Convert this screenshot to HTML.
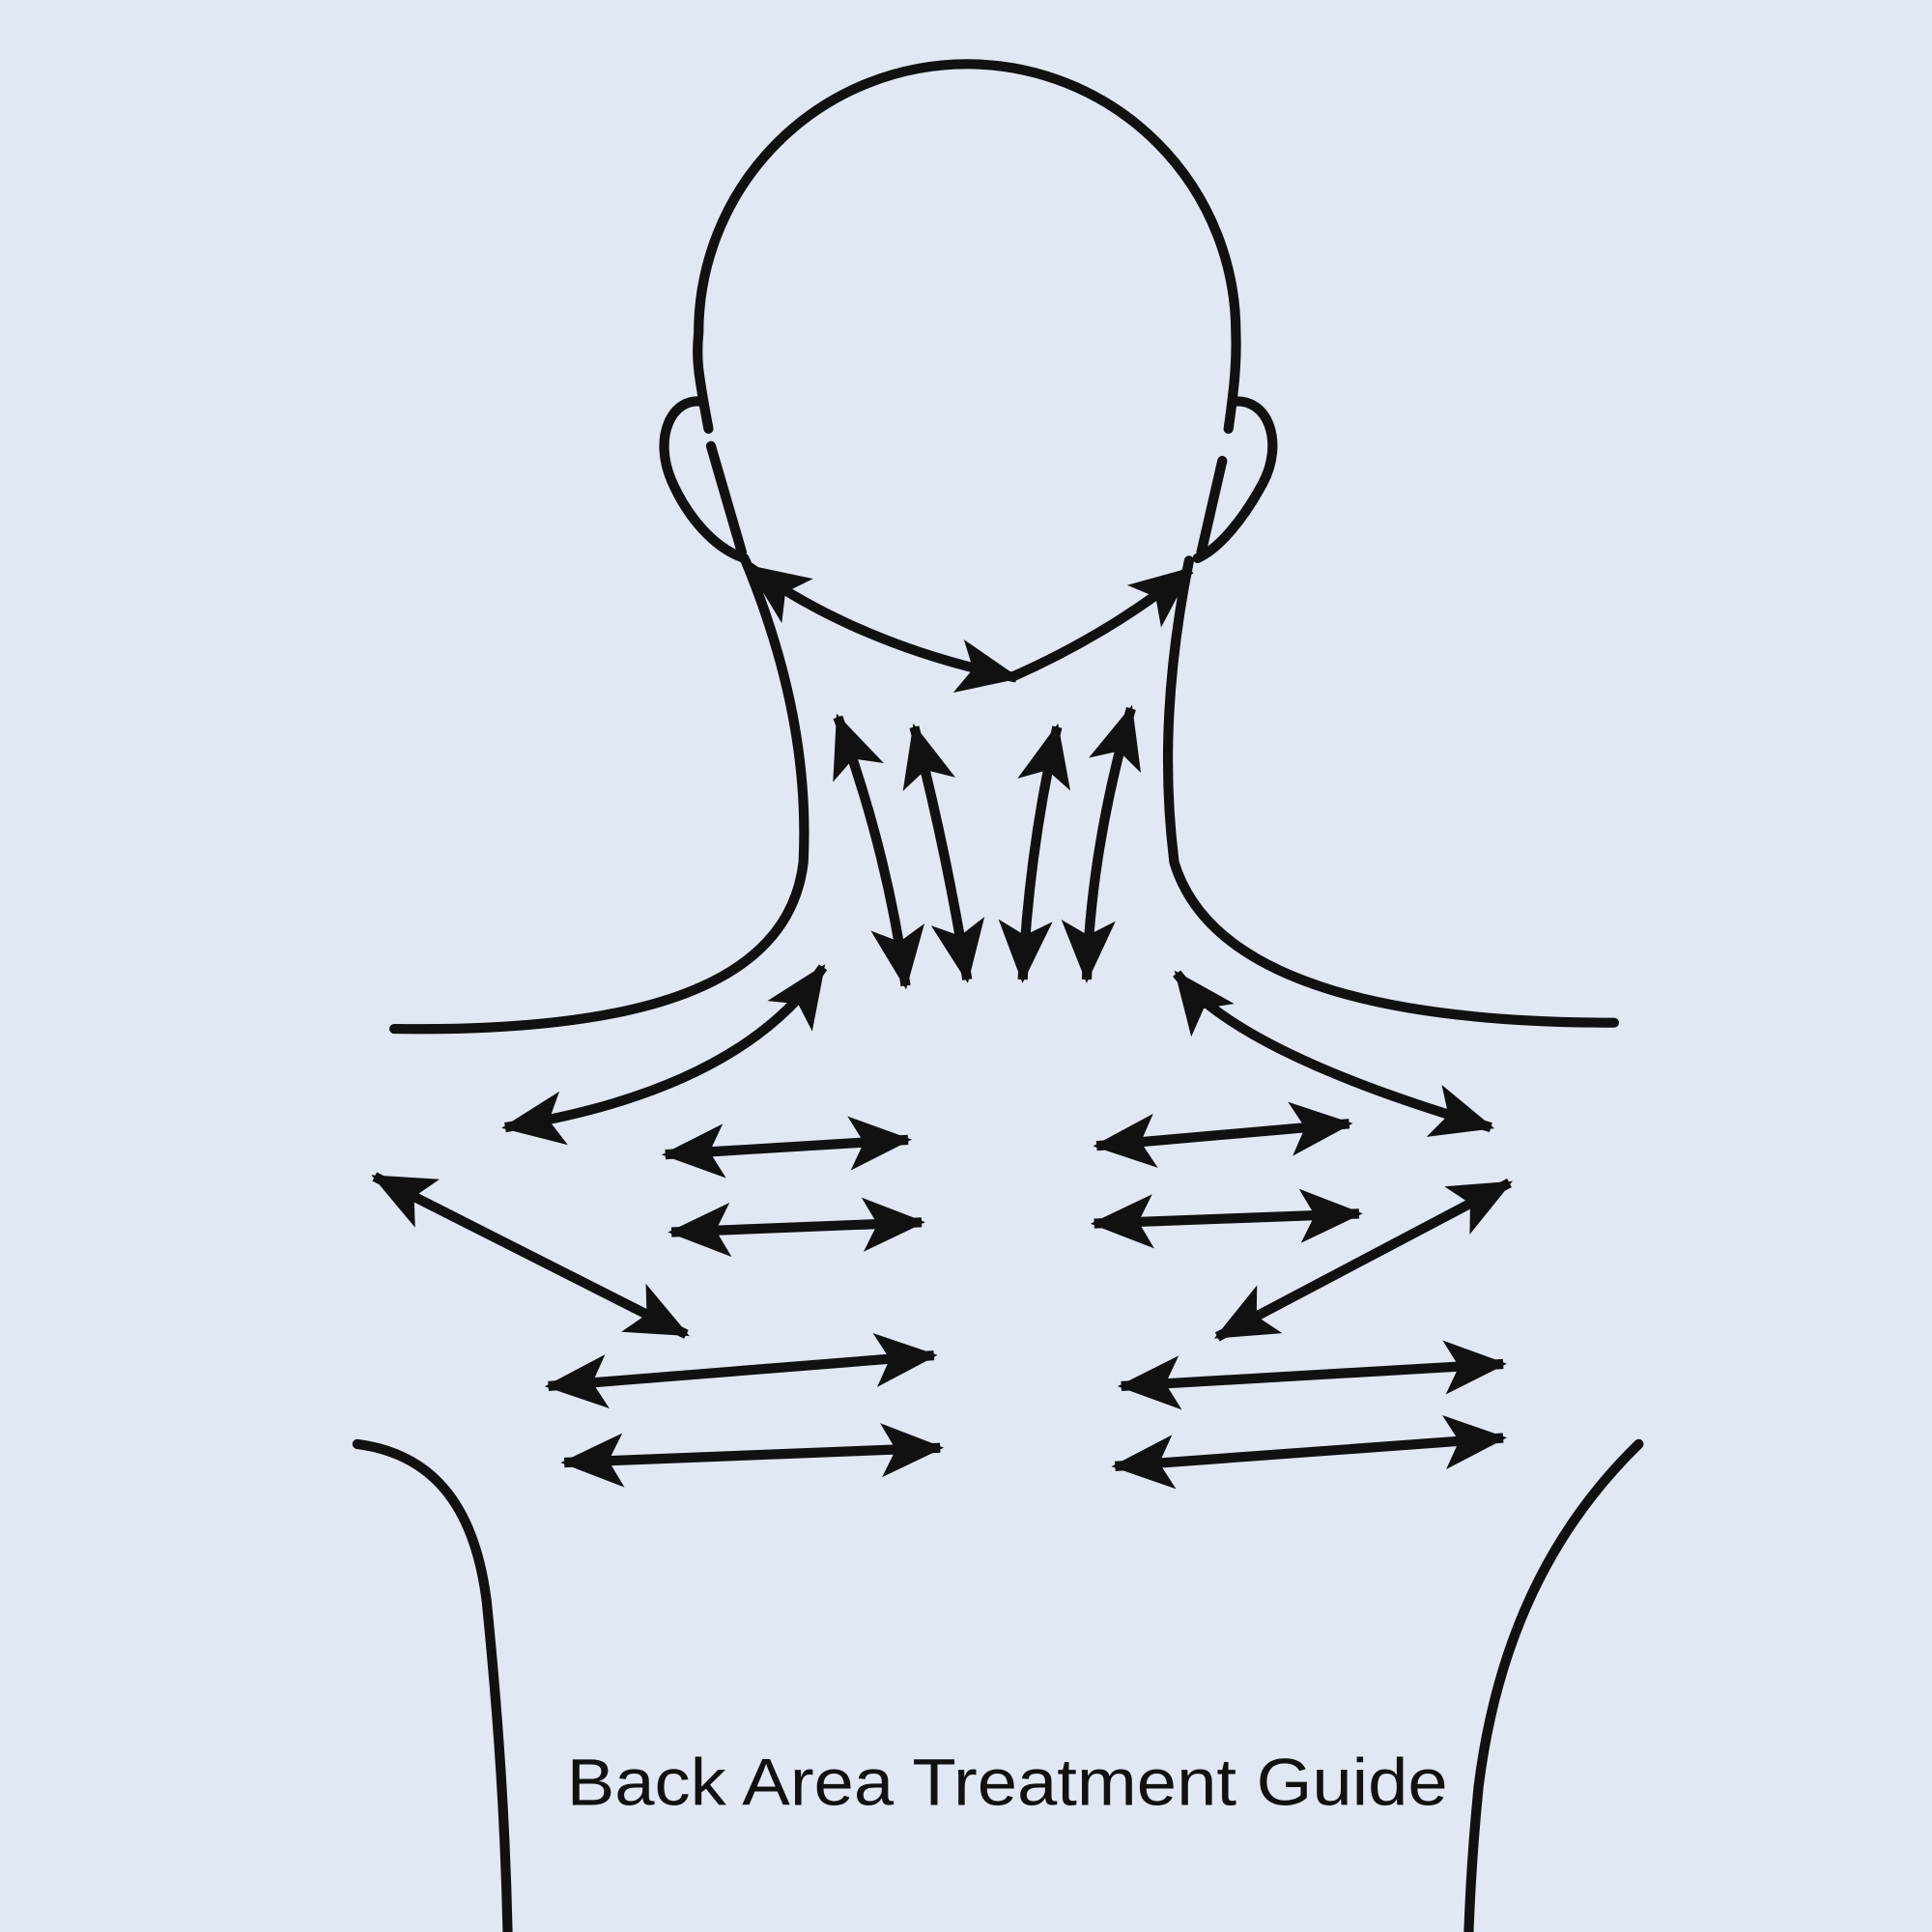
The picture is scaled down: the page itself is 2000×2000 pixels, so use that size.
<!DOCTYPE html>
<html><head><meta charset="utf-8"><style>
html,body{margin:0;padding:0;background:#e1e8f3;}
svg{display:block;}
</style></head><body>
<svg width="2000" height="2000" viewBox="0 0 1568 1568" xmlns="http://www.w3.org/2000/svg">
<defs>
<marker id="ah" markerUnits="userSpaceOnUse" viewBox="-55 -28 60 56" markerWidth="60" markerHeight="56" refX="0" refY="0" orient="auto-start-reverse">
<path d="M3,0 L-48,-22 L-36,0 L-48,22 Z" fill="#111"/>
</marker>
</defs>
<rect width="1568" height="1568" fill="#e1e8f3"/>
<g fill="none" stroke="#111" stroke-width="8" stroke-linecap="round">
<path d="M575,348 C566,300 565,290 567,270 A218 218 0 0 1 1003,270 C1004,295 1001,320 997,348"/>
<path d="M577,362 L602,448"/>
<path d="M992,374 L975,448"/>
<path d="M570,326 C545,322 530,355 545,390 C558,420 580,445 604,453"/>
<path d="M1000,326 C1030,322 1042,360 1025,392 C1010,420 990,445 972,453"/>
<path d="M605,455 C640,540 656,620 652,700 C640,800 520,838 320,835"/>
<path d="M965,455 C948,540 943,620 953,700 C985,805 1150,830 1310,830"/>
<path d="M290,1172 C350,1180 385,1220 395,1300 C405,1400 410,1480 412,1568"/>
<path d="M1330,1172 C1260,1240 1215,1330 1200,1450 C1195,1500 1193,1540 1192,1568"/>
</g>
<g fill="none" stroke="#111" stroke-width="8" stroke-linecap="butt" marker-start="url(#ah)" marker-end="url(#ah)">
<path d="M608,460 Q700,525 825,550"/>
<path d="M680,582 Q720,690 735,800"/>
<path d="M742,590 Q768,690 785,795"/>
<path d="M858,590 Q835,690 830,795"/>
<path d="M918,575 Q885,690 882,795"/>
<path d="M668,785 Q600,885 410,915"/>
<path d="M955,790 Q1005,855 1210,915"/>
<path d="M540,937 L737,925"/>
<path d="M545,1000 L748,992"/>
<path d="M890,930 L1095,912"/>
<path d="M888,993 L1103,985"/>
<path d="M304,955 L557,1083"/>
<path d="M1225,960 L988,1085"/>
<path d="M445,1125 L758,1100"/>
<path d="M458,1187 L763,1175"/>
<path d="M910,1125 L1220,1107"/>
<path d="M905,1190 L1220,1167"/>
</g>
<path d="M820,550 Q900,515 966,462" fill="none" stroke="#111" stroke-width="8" marker-end="url(#ah)"/>
<text x="460" y="1465" font-family="Liberation Sans, sans-serif" font-size="54" fill="#111" textLength="715" lengthAdjust="spacingAndGlyphs">Back Area Treatment Guide</text>
</svg>
</body></html>
